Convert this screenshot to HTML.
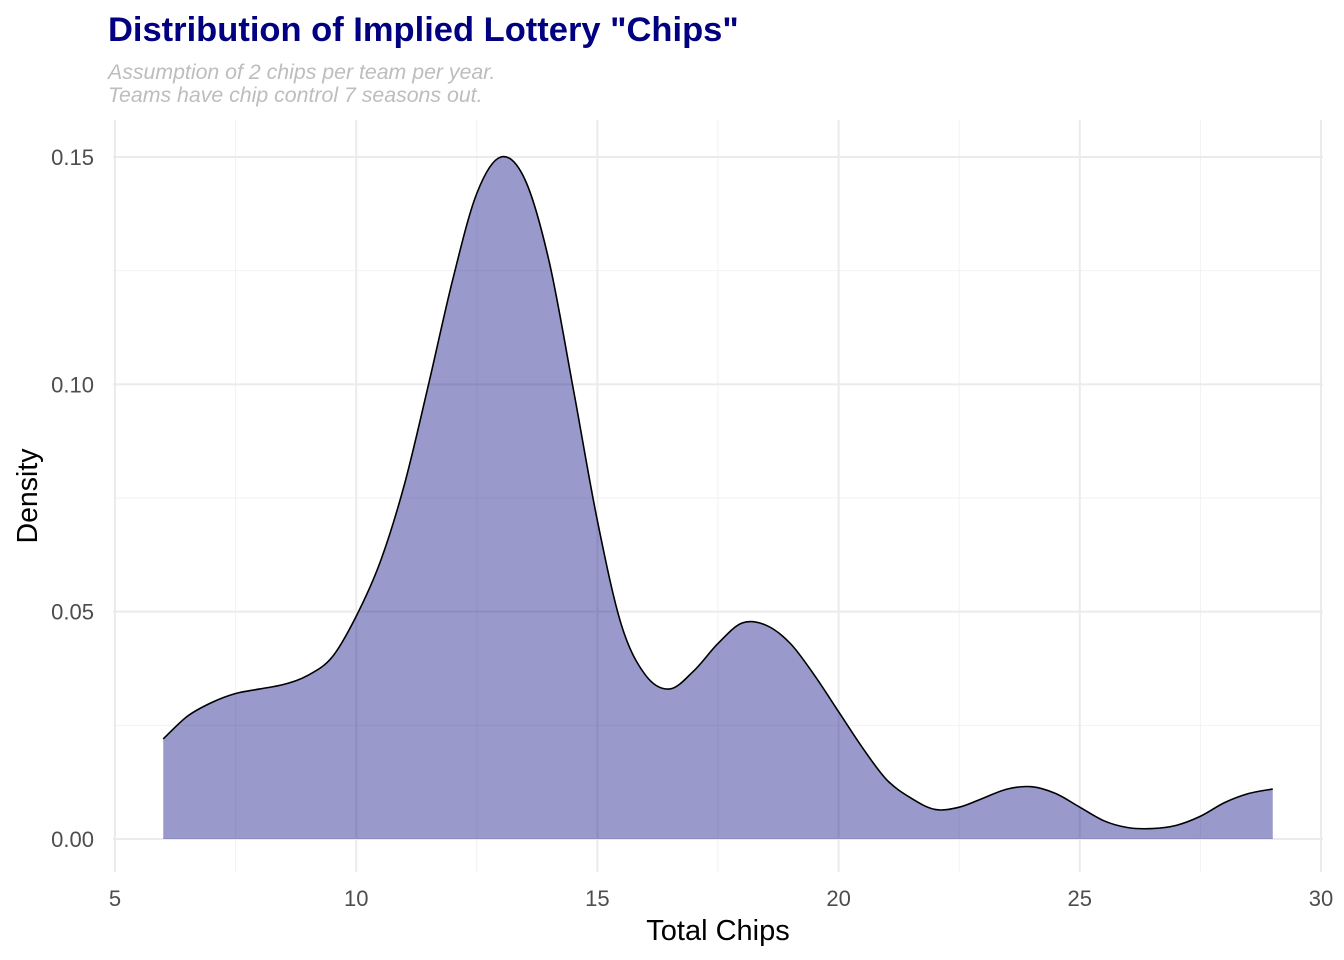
<!DOCTYPE html>
<html><head><meta charset="utf-8"><style>
body{margin:0;background:#fff;}
svg{display:block;font-family:"Liberation Sans",sans-serif;}
</style></head><body>
<svg id="chart" width="1344" height="960" viewBox="0 0 1344 960">
<text x="108" y="41" font-size="34.5" font-weight="bold" fill="#000080">Distribution of Implied Lottery "Chips"</text>
<text x="108" y="79" font-size="21.3" font-style="italic" fill="#bdbdbd">Assumption of 2 chips per team per year.</text>
<text x="108" y="102" font-size="21.3" font-style="italic" fill="#bdbdbd">Teams have chip control 7 seasons out.</text>
<g id="grid"></g>
<g id="marks"></g>
<g id="axes"></g>
<text x="718" y="940" font-size="29" text-anchor="middle" fill="#000">Total Chips</text>
<text transform="translate(37,496) rotate(-90)" font-size="28.5" text-anchor="middle" fill="#000">Density</text>
</svg>
<script>
const xs = [6,6.5,7,7.5,8,8.5,9,9.5,10,10.5,11,11.5,12,12.5,13,13.5,14,14.5,15,15.5,16,16.5,17,17.5,18,18.5,19,19.5,20,20.5,21,21.5,22,22.5,23,23.5,24,24.5,25,25.5,26,26.5,27,27.5,28,28.5,29];
const density = [0.022,0.027,0.030,0.032,0.033,0.034,0.036,0.040,0.049,0.061,0.078,0.100,0.123,0.142,0.150,0.145,0.127,0.099,0.070,0.047,0.036,0.033,0.037,0.043,0.0475,0.047,0.043,0.036,0.028,0.020,0.013,0.009,0.0065,0.007,0.009,0.011,0.0115,0.010,0.007,0.004,0.0025,0.0023,0.003,0.005,0.008,0.010,0.011];
const xTicks = [5,10,15,20,25,30];
const yTicks = [0,0.05,0.10,0.15];
const yTickLabels = ["0.00","0.05","0.10","0.15"];
const xMinor = [7.5,12.5,17.5,22.5,27.5];
const yMinor = [0.025,0.075,0.125];

const X = v => 115 + (v-5)*(1321-115)/25;
const Y = v => 839 - v*(839-157)/0.15;
const NS='http://www.w3.org/2000/svg';
const grid=document.getElementById('grid'), marks=document.getElementById('marks'), axes=document.getElementById('axes');
function line(g,x1,y1,x2,y2,c,w){const l=document.createElementNS(NS,'line');
l.setAttribute('x1',x1);l.setAttribute('y1',y1);l.setAttribute('x2',x2);l.setAttribute('y2',y2);
l.setAttribute('stroke',c);l.setAttribute('stroke-width',w);


g.appendChild(l);}
const L=113,R=1323,T=120,B=872;
xMinor.forEach(v=>line(grid,X(v),T,X(v),B,'#f2f2f2',1));
yMinor.forEach(v=>line(grid,L,Y(v),R,Y(v),'#f2f2f2',1));
xTicks.forEach(v=>line(grid,X(v),T,X(v),B,'#ebebeb',2));
yTicks.forEach(v=>line(grid,L,Y(v),R,Y(v),'#ebebeb',2));

const pts = xs.map((x,i)=>[X(x),Y(density[i])]);
let d='M'+pts[0][0]+','+pts[0][1];
for(let i=0;i<pts.length-1;i++){
  const p0=pts[Math.max(0,i-1)],p1=pts[i],p2=pts[i+1],p3=pts[Math.min(pts.length-1,i+2)];
  const c1=[p1[0]+(p2[0]-p0[0])/6,p1[1]+(p2[1]-p0[1])/6];
  const c2=[p2[0]-(p3[0]-p1[0])/6,p2[1]-(p3[1]-p1[1])/6];
  d+=` C${c1[0]},${c1[1]} ${c2[0]},${c2[1]} ${p2[0]},${p2[1]}`;
}
const area=document.createElementNS(NS,'path');
area.setAttribute('d',d+` L${X(xs[xs.length-1])},${Y(0)} L${X(xs[0])},${Y(0)} Z`);
area.setAttribute('fill','#000080');area.setAttribute('fill-opacity','0.4');


marks.appendChild(area);
const ln=document.createElementNS(NS,'path');
ln.setAttribute('d',d);ln.setAttribute('fill','none');ln.setAttribute('stroke','#000');ln.setAttribute('stroke-width','1.6');


marks.appendChild(ln);

function txt(x,y,s,anchor){const t=document.createElementNS(NS,'text');
t.setAttribute('x',x);t.setAttribute('y',y);t.setAttribute('font-size','22');t.setAttribute('fill','#4d4d4d');
t.setAttribute('text-anchor',anchor);t.textContent=s;


axes.appendChild(t);}
xTicks.forEach(v=>txt(X(v),906,String(v),'middle'));
yTicks.forEach((v,i)=>txt(94,Y(v)+8,yTickLabels[i],'end'));
</script>
</body></html>
